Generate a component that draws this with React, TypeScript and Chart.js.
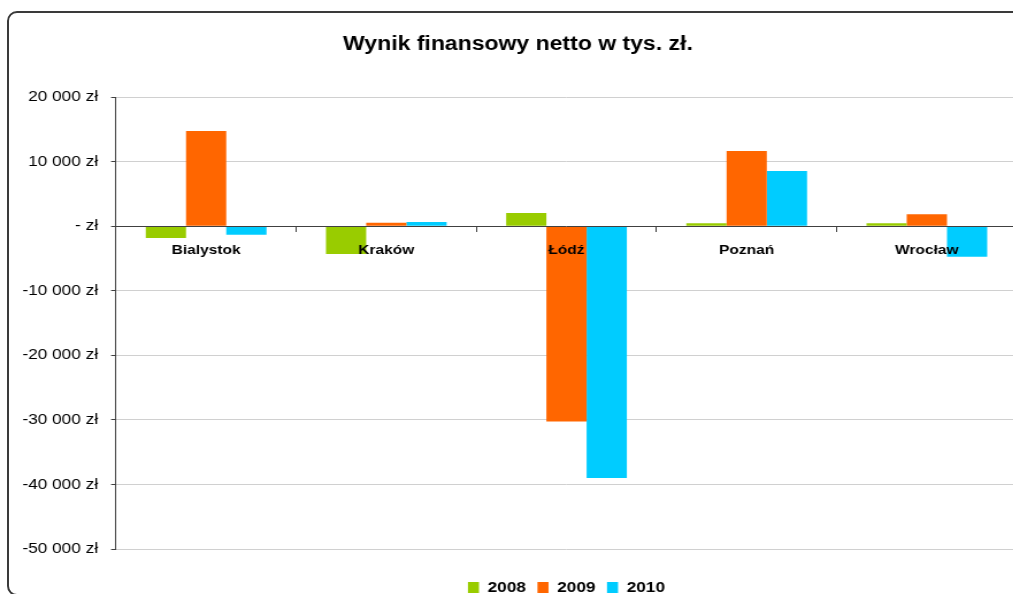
import React, { useEffect, useRef } from 'react';
import { Chart, registerables } from 'chart.js';

Chart.register(...registerables);

const cities = ['Bialystok', 'Kraków', 'Łódź', 'Poznań', 'Wrocław'];
const years = ['2008', '2009', '2010'];
const v2008 = [-1850, -4300, 2050, 460, 460];
const v2009 = [14750, 510, -30250, 11650, 1850];
const v2010 = [-1350, 660, -39000, 8550, -4750];
const seriesColors = ['#99CC00', '#FF6600', '#00CCFF'];
const yMin = -50000;
const yMax = 20000;
const yStep = 10000;

const SX = 1.15; // horizontal stretch of the original rendering
const CW = 894;
const CH = 605;
const FONT = '"Liberation Sans", Arial, Helvetica, sans-serif';

function fmt(v: number): string {
  if (v === 0) return '- zł';
  const s = Math.abs(v).toString().replace(/\B(?=(\d{3})+(?!\d))/g, ' ');
  return (v < 0 ? '-' : '') + s + ' zł';
}

export default function App() {
  const ref = useRef<HTMLCanvasElement | null>(null);

  useEffect(() => {
    if (!ref.current) return;
    const values = [v2008, v2009, v2010];
    const chart = new Chart(ref.current, {
      type: 'bar',
      data: {
        labels: cities,
        datasets: years.map((y, i) => ({
          label: y,
          data: values[i],
          backgroundColor: seriesColors[i],
          borderWidth: 0,
          categoryPercentage: 0.67,
          barPercentage: 1,
          xAxisID: 'x',
          yAxisID: 'y',
        })),
      },
      options: {
        responsive: false,
        animation: false,
        devicePixelRatio: 1,
        layout: { padding: { left: 16.5, right: 9.7, top: 0, bottom: 0 } },
        plugins: {
          title: {
            display: true,
            text: 'Wynik finansowy netto w tys. zł.',
            color: '#000',
            font: { family: FONT, size: 20, weight: 'bold' },
            padding: { top: 32.5, bottom: 40.5 },
          },
          legend: {
            position: 'bottom',
            fullSize: false,
            labels: {
              color: '#000',
              font: { family: FONT, size: 15, weight: 'bold' },
              boxWidth: 9.6,
              boxHeight: 11,
              padding: 10,
            },
          },
          tooltip: { enabled: false },
        },
        scales: {
          x: {
            type: 'category',
            axis: 'x',
            position: { y: 0 },
            offset: true,
            grid: {
              offset: true,
              drawOnChartArea: false,
              tickLength: 5,
              color: '#404040',
              lineWidth: 1,
            },
            border: { display: true, color: '#404040', z: 1 },
            ticks: {
              color: '#000',
              font: { family: FONT, size: 13.5, weight: 'bold' },
              padding: 11,
              z: 1,
              maxRotation: 0,
              autoSkip: false,
            },
          },
          x2: {
            type: 'category',
            axis: 'x',
            position: 'bottom',
            grid: { display: false },
            border: { display: false },
            ticks: { display: false },
            afterFit: (s: any) => {
              s.height = 21;
            },
          },
          y: {
            type: 'linear',
            min: yMin,
            max: yMax,
            ticks: {
              stepSize: yStep,
              color: '#000',
              font: { family: FONT, size: 15 },
              padding: 11.3,
              callback: (v: any) => fmt(Number(v)),
            },
            grid: {
              color: (ctx: any) =>
                ctx.tick && ctx.tick.value === 0 ? 'rgba(0,0,0,0)' : '#d0d0d0',
              tickColor: '#404040',
              tickLength: 4.3,
              lineWidth: 1,
            },
            border: { display: true, color: '#404040' },
            afterFit: (s: any) => {
              s.width = 84.4;
            },
          },
        },
      } as any,
    });
    return () => chart.destroy();
  }, []);

  return (
    <div
      style={{
        position: 'fixed',
        left: 0,
        top: 0,
        width: 1013,
        height: 594,
        overflow: 'hidden',
        background: '#fff',
      }}
    >
      <div
        style={{
          position: 'absolute',
          left: 7,
          top: 11,
          width: 1100,
          height: 585,
          border: '2px solid #3a3a3a',
          borderRadius: 10,
          boxSizing: 'border-box',
        }}
      />
      <canvas
        ref={ref}
        width={CW}
        height={CH}
        style={{
          position: 'absolute',
          left: 0,
          top: 0,
          width: CW,
          height: CH,
          transform: `scaleX(${SX})`,
          transformOrigin: '0 0',
        }}
      />
    </div>
  );
}
